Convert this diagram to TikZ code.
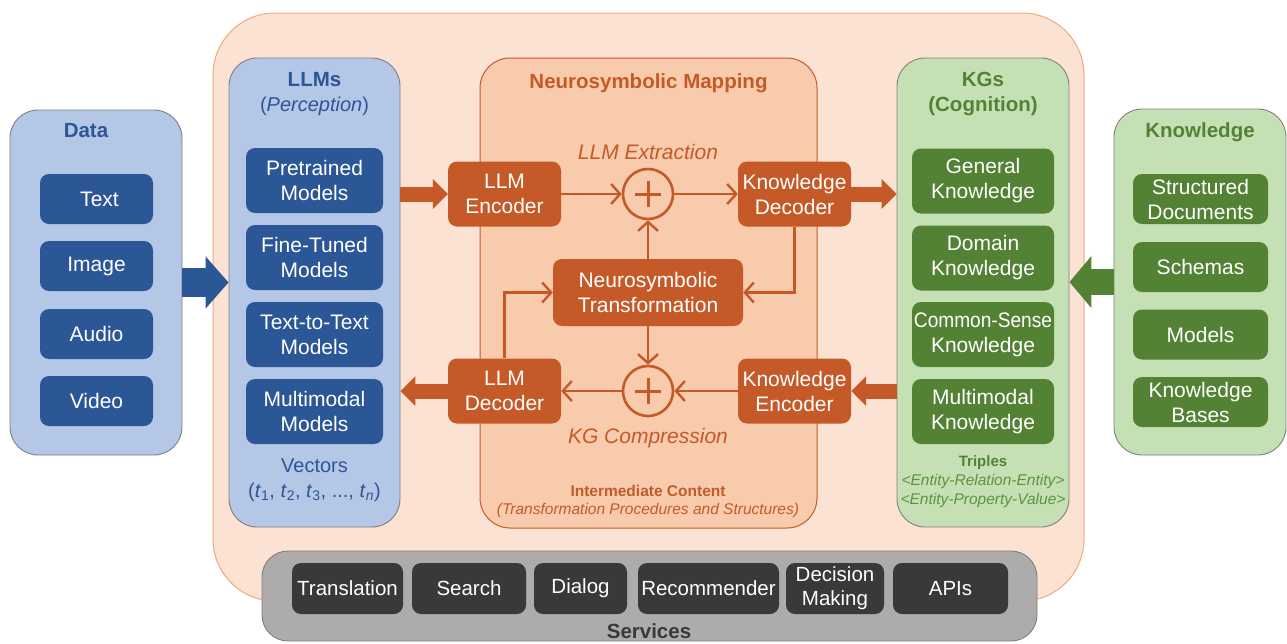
\documentclass[tikz,border=0pt]{standalone}
\usepackage{fontspec}
\setmainfont{Liberation Sans}
\newfontfamily\narrowf[FakeStretch=0.91]{Liberation Sans}
\usetikzlibrary{arrows.meta,calc}
\definecolor{peachFill}{HTML}{FBE2D3}
\definecolor{peachDraw}{HTML}{F0A982}
\definecolor{neuroFill}{HTML}{F8CBAD}
\definecolor{orng}{HTML}{C55A28}
\definecolor{blueLight}{HTML}{B4C7E7}
\definecolor{blueDark}{HTML}{2B5797}
\definecolor{blueTitle}{HTML}{2F5597}
\definecolor{greenLight}{HTML}{C5E0B4}
\definecolor{greenDark}{HTML}{548235}
\definecolor{greenText}{HTML}{5E9340}
\definecolor{grayFill}{HTML}{AEABAB}
\definecolor{grayDark}{HTML}{3A3838}
\definecolor{borderGray}{HTML}{7F7F7F}
\begin{document}
\begin{tikzpicture}[x=1pt,y=-1pt,
  container/.style={draw=borderGray, line width=0.9pt, rounded corners=28pt, inner sep=0pt},
  item/.style={rounded corners=9pt, inner sep=0pt, align=center, text=white, font=\fontsize{21}{25}\selectfont},
  blueitem/.style={item, fill=blueDark, minimum width=137pt, minimum height=65pt},
  dataitem/.style={item, fill=blueDark, minimum width=113pt, minimum height=50pt},
  greenitem/.style={item, fill=greenDark, minimum width=142pt, minimum height=65pt},
  knowitem/.style={item, fill=greenDark, minimum width=135pt, minimum height=50pt},
  oritem/.style={item, fill=orng, minimum width=113pt, minimum height=65pt},
  servitem/.style={item, fill=grayDark, minimum height=51pt, font=\fontsize{20.5}{24}\selectfont},
  title/.style={inner sep=0pt, font=\bfseries\fontsize{20.5}{25}\selectfont},
  plain/.style={inner sep=0pt, font=\fontsize{20}{25}\selectfont},
  small/.style={inner sep=0pt, font=\fontsize{15.5}{18}\selectfont},
  pluscirc/.style={circle, draw=orng, line width=2.6pt, minimum size=50pt, inner sep=0pt},
  conn/.style={draw=orng, line width=2.4pt, -{Straight Barb[length=9pt,width=20pt,line width=2.4pt]}},
  orarrow/.style={draw=orng, line width=15pt, -{Triangle[width=29pt,length=15pt]}},
  bluearrow/.style={draw=blueDark, line width=29pt, -{Triangle[width=51pt,length=23pt]}},
  greenarrow/.style={draw=greenDark, line width=26pt, -{Triangle[width=51pt,length=22pt]}}
]
\useasboundingbox (0,0) rectangle (1287,643);

% outer peach container
\node[draw=peachDraw, fill=peachFill, line width=1pt, rounded corners=62pt,
      minimum width=871pt, minimum height=588pt, inner sep=0pt] (outer) at (648.5,307) {};

% Data
\node[container, fill=blueLight, minimum width=172pt, minimum height=345pt] (data) at (96,282.5) {};
\node[title, text=blueTitle] (datat) at (86,131) {Data};
\node[dataitem] (dtext) at (96.5,199) {\hspace*{6pt}Text};
\node[dataitem] (dimage) at (96.5,266) {Image};
\node[dataitem] (daudio) at (96.5,334) {Audio};
\node[dataitem] (dvideo) at (96.5,401) {Video};

% LLMs
\node[container, fill=blueLight, minimum width=171pt, minimum height=469pt] (llms) at (314.5,292.5) {};
\node[title, text=blueTitle] (llmst) at (314.5,80) {LLMs};
\node[plain, text=blueTitle] (llmsp) at (314.5,106) {(\textit{Perception})};
\node[blueitem] (pre) at (314.5,180.5) {Pretrained\\Models};
\node[blueitem] (fine) at (314.5,257.5) {Fine-Tuned\\Models};
\node[blueitem] (t2t) at (314.5,334.5) {Text-to-Text\\Models};
\node[blueitem] (mm) at (314.5,411.5) {Multimodal\\Models};
\node[plain, text=blueTitle] (vec) at (314.5,466) {Vectors};
\node[plain, text=blueTitle] (vecs) at (314.5,492) {(\textit{t}\textsubscript{1}, \textit{t}\textsubscript{2}, \textit{t}\textsubscript{3}, ..., \textit{t}\textsubscript{\textit{n}})};

% Neurosymbolic mapping
\node[draw=orng, fill=neuroFill, line width=1pt, rounded corners=30pt,
      minimum width=337pt, minimum height=470pt, inner sep=0pt] (neuro) at (648.5,293) {};
\node[title, text=orng] (neurot) at (648.5,83) {Neurosymbolic Mapping};
\node[oritem] (le) at (504.5,194) {LLM\\Encoder};
\node[oritem] (kd) at (794.5,194) {Knowledge\\Decoder};
\node[oritem, minimum width=190pt, minimum height=67pt] (nt) at (648,292.5) {Neurosymbolic\\Transformation};
\node[oritem] (ld) at (504.5,391) {LLM\\Decoder};
\node[oritem] (ke) at (794.5,391) {Knowledge\\Encoder};
\node[pluscirc] (p1) at (648,194) {};
\node[pluscirc] (p2) at (648,391) {};
\foreach \p in {p1,p2}{
  \draw[orng, line width=3pt] ($(\p.center)+(-13,0)$) -- ($(\p.center)+(13,0)$);
  \draw[orng, line width=3pt] ($(\p.center)+(0,-13)$) -- ($(\p.center)+(0,13)$);
}
\node[inner sep=0pt, text=orng, font=\itshape\fontsize{21}{25}\selectfont] (ext) at (648,152) {LLM Extraction};
\node[inner sep=0pt, text=orng, font=\itshape\fontsize{21}{25}\selectfont] (comp) at (648,438) {KG Compression};
\node[small, text=orng, font=\bfseries\fontsize{15.5}{18}\selectfont] (ic) at (648,491) {Intermediate Content};
\node[small, text=orng, font=\itshape\fontsize{15.5}{18}\selectfont] (icp) at (648,510) {(Transformation Procedures and Structures)};

\draw[conn] (le) -- (p1);
\draw[conn] (p1) -- (kd);
\draw[conn] (kd.south) |- (nt.east);
\draw[conn] (nt) -- (p1);
\draw[conn] (nt) -- (p2);
\draw[conn] (ke) -- (p2);
\draw[conn] (p2) -- (ld);
\draw[conn] (ld.north) |- (nt.west);

% KGs
\node[container, fill=greenLight, minimum width=172pt, minimum height=469pt] (kgs) at (983,292.5) {};
\node[title, text=greenDark, align=center] (kgst) at (983,94) {KGs\\(Cognition)};
\node[greenitem] (gen) at (983,181) {General\\Knowledge};
\node[greenitem] (dom) at (983,258) {Domain\\Knowledge};
\node[greenitem] (cs) at (983,334.5) {{\narrowf Common-Sense}\\Knowledge};
\node[greenitem] (mk) at (983,411.5) {Multimodal\\Knowledge};
\node[small, text=greenDark, font=\bfseries\fontsize{15}{18}\selectfont] (tri) at (983,463) {Triples};
\node[small, text=greenText, font=\itshape\fontsize{15.5}{18}\selectfont] (tri1) at (983,481) {<Entity-Relation-Entity>};
\node[small, text=greenText, font=\itshape\fontsize{15.5}{18}\selectfont] (tri2) at (983,500) {<Entity-Property-Value>};

% Knowledge
\node[container, fill=greenLight, minimum width=172pt, minimum height=346pt] (know) at (1200,282) {};
\node[title, text=greenDark] (knowt) at (1200,132) {Knowledge};
\node[knowitem] (sd) at (1200.5,199) {Structured\\Documents};
\node[knowitem] (sch) at (1200.5,267) {Schemas};
\node[knowitem] (mod) at (1200.5,334.5) {Models};
\node[knowitem] (kb) at (1200.5,402) {Knowledge\\Bases};

% block arrows
\draw[bluearrow] (data.east) -- (llms.west |- data.east);
\draw[greenarrow] (know.west) -- (kgs.east |- know.west);
\draw[orarrow] (llms.east |- le.west) -- (le.west);
\draw[orarrow] (ld.west) -- (llms.east |- ld.west);
\draw[orarrow] (kd.east) -- (kgs.west |- kd.east);
\draw[orarrow] (kgs.west |- ke.east) -- (ke.east);

% Services
\node[draw=borderGray, fill=grayFill, line width=0.9pt, rounded corners=26pt,
      minimum width=775pt, minimum height=90pt, inner sep=0pt] (serv) at (649.5,596) {};
\node[servitem, minimum width=111pt] (s1) at (347.5,588.5) {Translation};
\node[servitem, minimum width=114pt] (s2) at (469,588.5) {Search};
\node[servitem, minimum width=93pt] (s3) at (580.5,588.5) {Dialog};
\node[servitem, minimum width=141pt] (s4) at (708.5,588.5) {Recommender};
\node[servitem, minimum width=98pt] (s5) at (835,588.5) {Decision\\Making};
\node[servitem, minimum width=115pt] (s6) at (950.5,588.5) {APIs};
\node[title, text=grayDark] (servt) at (649,631) {Services};
\end{tikzpicture}
\end{document}
